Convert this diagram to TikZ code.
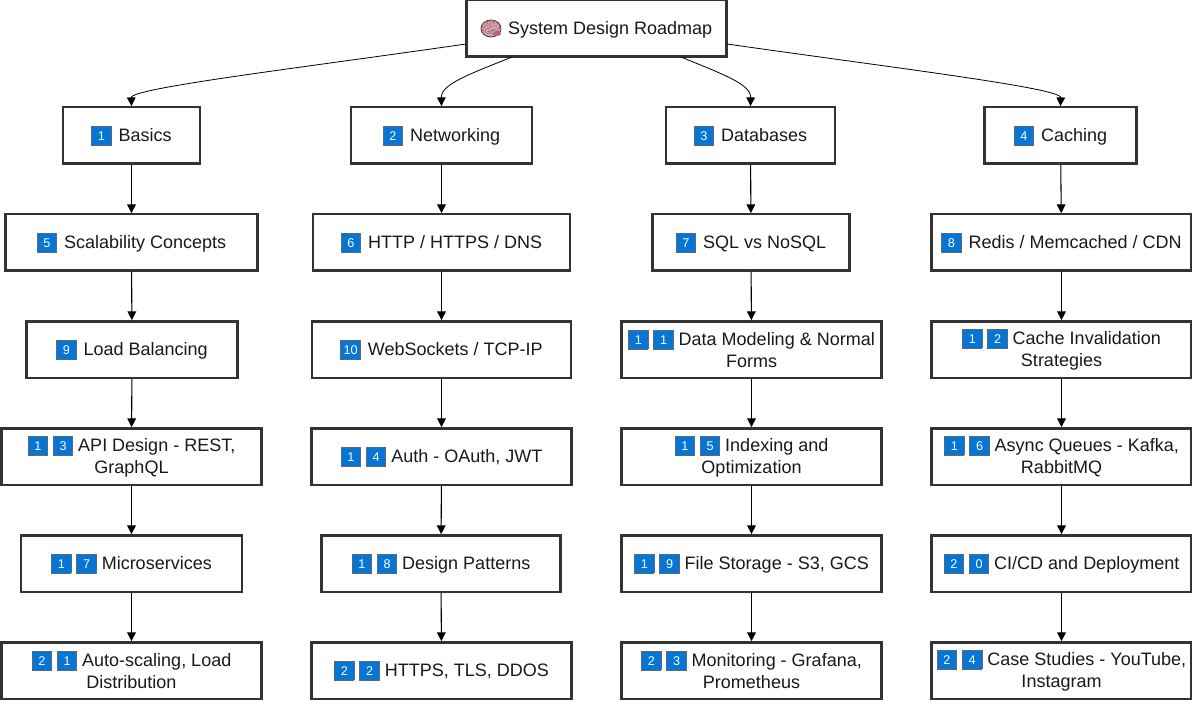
\documentclass[tikz,border=0pt]{standalone}
\usepackage{fontspec}
\setmainfont{Liberation Sans}
\newfontfamily\emojifont{Noto Emoji}
\usetikzlibrary{arrows.meta}
\definecolor{keyblue}{HTML}{0675D3}
\definecolor{keyedge}{HTML}{5A6A78}
\definecolor{boxedge}{HTML}{333333}
\definecolor{brainpink}{HTML}{F29CB0}
\definecolor{brainred}{HTML}{E0506A}
% Blue number tile
\newcommand{\keycap}[1]{\begingroup\setlength{\fboxsep}{0pt}\setlength{\fboxrule}{0.6pt}%
  \raisebox{-2.6pt}{\fcolorbox{keyedge}{keyblue}{\makebox[14pt]{\rule{0pt}{13.6pt}\raisebox{3.2pt}{\color{white}\fontsize{9.5}{9.5}\selectfont #1}}}}\endgroup}
\newcommand{\keyone}[1]{\keycap{#1}\hspace{1.6pt}}
% Same depth under every second line
\newcommand{\lowline}{\rule[-1.5pt]{0pt}{1.5pt}}
\tikzset{
  roadbox/.style={draw=boxedge, line width=1.8pt, fill=white, align=center, inner sep=0pt,
    minimum height=42.3pt, font=\fontsize{13.5}{16.5}\selectfont, text=black!90},
  wide/.style={roadbox, minimum width=195pt},
  link/.style={line width=0.8pt, -{Triangle[width=6.5pt,length=6.5pt]}},
  curvelink/.style={line width=0.6pt, -{Triangle[width=6.5pt,length=6.5pt]}}
}
\begin{document}
\begin{tikzpicture}[x=0.75pt, y=-0.75pt]
    \useasboundingbox (0,0) rectangle (1192,702);

    % Root box
    \node[roadbox, minimum width=195pt] (root) at (596.5,28.5) {\phantom{\keyone{0}} System Design Roadmap};
    \fill[brainpink, draw=black!80, line width=0.6pt] (491,28.5) ellipse (10 and 8.5);
    \fill[brainred] (497,33.5) ellipse (4 and 2.5);
    \node[text=black!50, font=\emojifont\fontsize{13}{13}\selectfont, inner sep=0pt] (brain) at (491,28.5) {\symbol{"1F9E0}};

    % First row
    \node[roadbox, minimum width=103pt] (basics) at (131.5,135.5) {\keyone{1} Basics};
    \node[roadbox, minimum width=136pt] (networking) at (441.5,135.5) {\keyone{2} Networking};
    \node[roadbox, minimum width=127pt] (databases) at (750.5,135.5) {\keyone{3} Databases};
    \node[roadbox, minimum width=114pt] (caching) at (1060.5,135.5) {\keyone{4} Caching};

    % Second row
    \node[roadbox, minimum width=189pt] (scalability) at (131.5,242.5) {\keyone{5} Scalability Concepts};
    \node[wide, minimum width=193pt] (http) at (441.5,242.5) {\keyone{6} HTTP / HTTPS / DNS};
    \node[roadbox, minimum width=148pt] (sql) at (751,242.5) {\keyone{7} SQL vs NoSQL};
    \node[wide] (redis) at (1061.5,242.5) {\keyone{8} Redis / Memcached / CDN};

    % Third row
    \node[roadbox, minimum width=158pt] (balancing) at (132,349.5) {\keyone{9} Load Balancing};
    \node[wide, minimum width=194pt] (sockets) at (441.5,349.5) {\keyone{10} WebSockets / TCP-IP};
    \node[wide] (modeling) at (751.5,349.5) {\keycap{1} \keycap{1} Data Modeling \& Normal\\Forms\lowline};
    \node[wide] (invalidation) at (1061.5,349.5) {\keycap{1} \keycap{2} Cache Invalidation\\Strategies\lowline};

    % Fourth row
    \node[wide] (api) at (131.5,456.5) {\keycap{1} \keycap{3} API Design - REST,\\GraphQL\lowline};
    \node[wide] (auth) at (441.5,456.5) {\keycap{1} \keycap{4} Auth - OAuth, JWT};
    \node[wide] (indexing) at (751.5,456.5) {\keycap{1} \keycap{5} Indexing and\\Optimization\lowline};
    \node[wide] (queues) at (1061.5,456.5) {\keycap{1} \keycap{6} Async Queues - Kafka,\\RabbitMQ\lowline};

    % Fifth row
    \node[roadbox, minimum width=166pt] (micro) at (131.5,563.5) {\keycap{1} \keycap{7} Microservices};
    \node[roadbox, minimum width=179pt] (patterns) at (441,563.5) {\keycap{1} \keycap{8} Design Patterns};
    \node[wide] (storage) at (751.5,563.5) {\keycap{1} \keycap{9} File Storage - S3, GCS};
    \node[wide] (deploy) at (1061.5,563.5) {\keycap{2} \keycap{0} CI/CD and Deployment};

    % Sixth row
    \node[wide] (autoscale) at (131.5,670.5) {\keycap{2} \keycap{1} Auto-scaling, Load\\Distribution\lowline};
    \node[wide] (tls) at (441.5,670.5) {\keycap{2} \keycap{2} HTTPS, TLS, DDOS};
    \node[wide] (monitoring) at (751.5,670.5) {\keycap{2} \keycap{3} Monitoring - Grafana,\\Prometheus\lowline};
    \node[wide] (cases) at (1061.5,670.5) {\keycap{2} \keycap{4} Case Studies - YouTube,\\Instagram\lowline};

    % Curved links from the root
    \coordinate (rootleft) at (466,44);
    \coordinate (rootright) at (727,44);
    \coordinate (rootsl) at (512,57);
    \coordinate (rootsr) at (681,57);
    \draw[curvelink] (rootleft) .. controls (300,68) and (131,88) .. (basics.north);
    \draw[curvelink] (rootsl) .. controls (470,74) and (441,84) .. (networking.north);
    \draw[curvelink] (rootsr) .. controls (722,74) and (751,84) .. (databases.north);
    \draw[curvelink] (rootright) .. controls (895,68) and (1061,88) .. (caching.north);

    % Straight links down each column
    \foreach \a/\b in {basics/scalability,scalability/balancing,balancing/api,api/micro,micro/autoscale,
      networking/http,http/sockets,sockets/auth,auth/patterns,patterns/tls,
      databases/sql,sql/modeling,modeling/indexing,indexing/storage,storage/monitoring,
      caching/redis,redis/invalidation,invalidation/queues,queues/deploy,deploy/cases}
      \draw[link] (\a) -- (\b);
\end{tikzpicture}
\end{document}
